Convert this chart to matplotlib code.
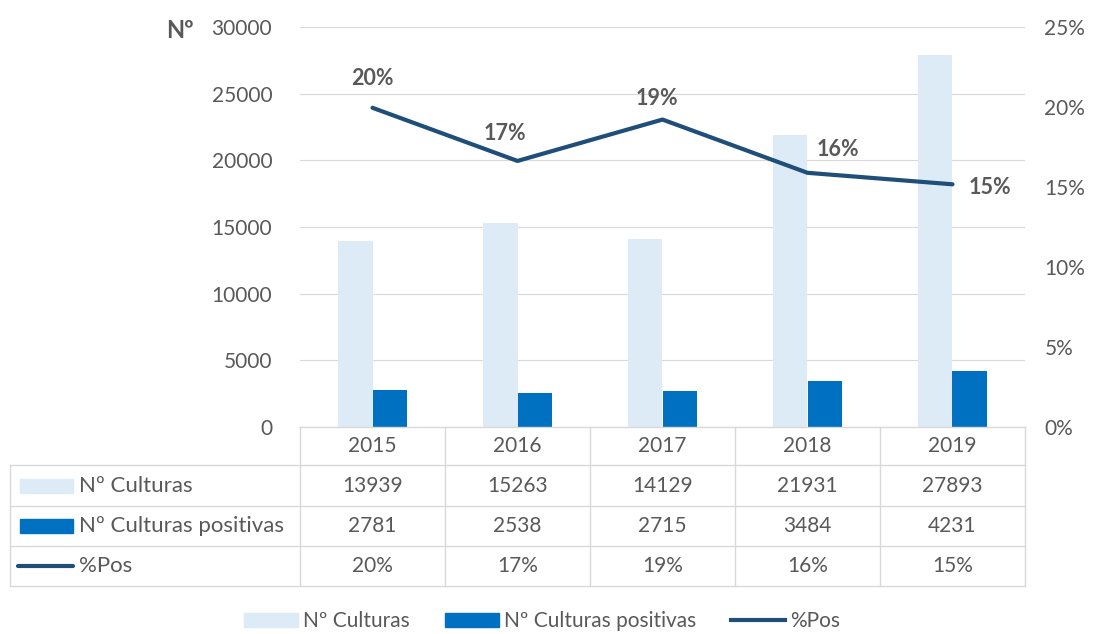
import matplotlib
matplotlib.use('Agg')
from matplotlib import pyplot as plt
from matplotlib.patches import Rectangle
from matplotlib.lines import Line2D
import numpy as np

plt.rcParams['font.family'] = ['Lato', 'DejaVu Sans']

years = ['2015', '2016', '2017', '2018', '2019']
culturas = [13939, 15263, 14129, 21931, 27893]
positivas = [2781, 2538, 2715, 3484, 4231]
pct = [p / c for p, c in zip(positivas, culturas)]
pct_labels = ['%d%%' % round(v * 100) for v in pct]

c_light = '#DDEBF7'
c_dark = '#0070C0'
c_line = '#1F4E79'
c_text = '#595959'
c_grid = '#D9D9D9'
fs = 15

W, H = 1096, 634
fig = plt.figure(figsize=(W / 100, H / 100), dpi=100)

def fx(px):
    return px / W

def fy(py):
    return 1 - py / H

left, right, top, bottom = 300, 1025, 27, 427
ax = fig.add_axes([fx(left), fy(bottom), fx(right) - fx(left), fy(top) - fy(bottom)])
ax2 = ax.twinx()

x = np.arange(len(years))
w = 0.235
ax.bar(x - w / 2, culturas, w, color=c_light, zorder=2)
ax.bar(x + w / 2, positivas, w, color=c_dark, zorder=2)
ax.set_xlim(-0.5, len(years) - 0.5)
ax.set_ylim(0, 30000)
ax.set_yticks(range(0, 30001, 5000))
ax.grid(axis='y', color=c_grid, lw=0.8, zorder=0)
ax.set_xticks([])

ax2.plot(x, pct, color=c_line, lw=3, solid_capstyle='round', zorder=3)
ax2.set_ylim(0, 0.25)
ax2.set_yticks(np.arange(0, 0.2501, 0.05))
ax2.set_yticklabels(['%d%%' % round(v * 100) for v in np.arange(0, 0.2501, 0.05)])

for a in (ax, ax2):
    for s in a.spines.values():
        s.set_visible(False)
    a.tick_params(length=0, labelsize=fs, labelcolor=c_text)
ax.tick_params(axis='y', pad=20)
ax2.tick_params(axis='y', pad=14)

# data labels on the line
offsets = [(0, 21), (-9, 20), (-4, 15), (22, 17), (27, -2)]
for i, (v, lab) in enumerate(zip(pct, pct_labels)):
    ax2.annotate(lab, (x[i], v), xytext=offsets[i], textcoords='offset points',
                 ha='center', va='center', fontsize=fs + 0.5, fontweight='bold',
                 color=c_text, zorder=4)

fig.text(fx(180), fy(30), 'Nº', fontsize=17, fontweight='bold', color=c_text,
         ha='center', va='center')

# data table under the plot
col_w = (right - left) / len(years)
row_edges = [427, 465, 506, 546, 586]
tbl_left = 10
lkw = dict(color=c_grid, lw=1, transform=fig.transFigure)
fig.add_artist(Line2D([fx(left), fx(right)], [fy(427), fy(427)], **lkw))
for ry in row_edges[1:]:
    fig.add_artist(Line2D([fx(tbl_left), fx(right)], [fy(ry), fy(ry)], **lkw))
for i in range(len(years) + 1):
    cx = left + i * col_w
    fig.add_artist(Line2D([fx(cx), fx(cx)], [fy(427), fy(586)], **lkw))
fig.add_artist(Line2D([fx(tbl_left), fx(tbl_left)], [fy(465), fy(586)], **lkw))

rows = [[str(v) for v in culturas], [str(v) for v in positivas], pct_labels]
row_names = ['Nº Culturas', 'Nº Culturas positivas', '%Pos']
tkw = dict(fontsize=fs, color=c_text, va='center')
for i, yr in enumerate(years):
    cx = left + (i + 0.5) * col_w
    fig.text(fx(cx), fy((row_edges[0] + row_edges[1]) / 2), yr, ha='center', **tkw)
    for r in range(3):
        cy = (row_edges[r + 1] + row_edges[r + 2]) / 2
        fig.text(fx(cx), fy(cy), rows[r][i], ha='center', **tkw)

for r, name in enumerate(row_names):
    cy = (row_edges[r + 1] + row_edges[r + 2]) / 2
    fig.text(fx(79), fy(cy), name, ha='left', fontsize=fs + 1, color=c_text, va='center')
    if r < 2:
        fig.add_artist(Rectangle((fx(20), fy(cy + 7)), fx(53), 14 / H,
                                 color=[c_light, c_dark][r], transform=fig.transFigure))
    else:
        fig.add_artist(Line2D([fx(18), fx(73)], [fy(cy), fy(cy)], color=c_line,
                              lw=3, solid_capstyle='round', transform=fig.transFigure))

handles = [Rectangle((0, 0), 1, 1, color=c_light),
           Rectangle((0, 0), 1, 1, color=c_dark),
           Line2D([0], [0], color=c_line, lw=3)]
fig.legend(handles, row_names, loc='center', bbox_to_anchor=(fx(542), fy(621)),
           ncol=3, frameon=False, fontsize=15, labelcolor=c_text,
           handlelength=2.6, handleheight=0.65, columnspacing=1.65, handletextpad=0.25)

fig.savefig('out.png', dpi=100)
